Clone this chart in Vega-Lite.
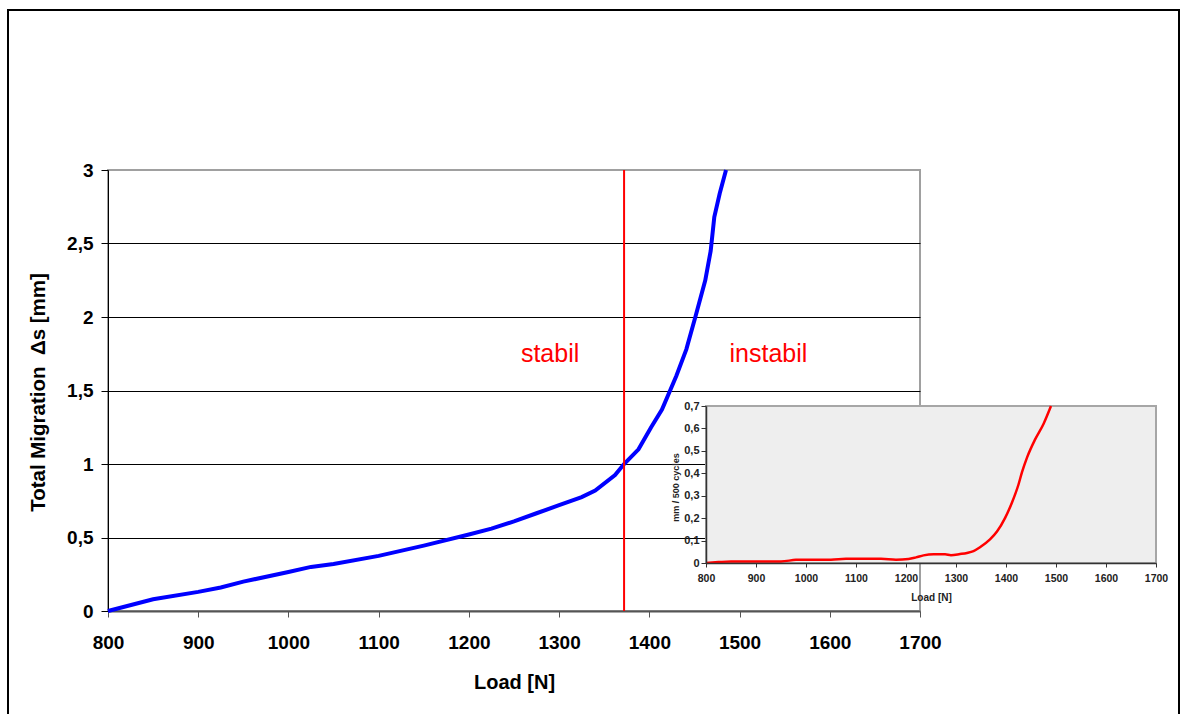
{
  "$schema": "https://vega.github.io/schema/vega-lite/v6.json",
  "width": 812,
  "height": 441,
  "autosize": {"type": "none"},
  "padding": {"left": 108, "top": 170, "right": 262, "bottom": 103},
  "background": "white",
  "config": {
    "view": {"stroke": "#a0a0a0", "strokeWidth": 2},
    "font": "Liberation Sans"
  },
  "datasets": {
    "migration": [
      {"load": 800, "mm": 0},
      {"load": 850, "mm": 0.08},
      {"load": 900, "mm": 0.13},
      {"load": 925, "mm": 0.16},
      {"load": 950, "mm": 0.2},
      {"load": 1000, "mm": 0.265},
      {"load": 1025, "mm": 0.3},
      {"load": 1050, "mm": 0.32},
      {"load": 1100, "mm": 0.375},
      {"load": 1150, "mm": 0.445},
      {"load": 1200, "mm": 0.52},
      {"load": 1225, "mm": 0.56},
      {"load": 1250, "mm": 0.61},
      {"load": 1275, "mm": 0.665},
      {"load": 1300, "mm": 0.72},
      {"load": 1325, "mm": 0.775},
      {"load": 1340, "mm": 0.82},
      {"load": 1362, "mm": 0.925},
      {"load": 1372, "mm": 1.0},
      {"load": 1388, "mm": 1.1},
      {"load": 1402, "mm": 1.25},
      {"load": 1414, "mm": 1.37},
      {"load": 1430, "mm": 1.6},
      {"load": 1441, "mm": 1.78},
      {"load": 1451, "mm": 2.0},
      {"load": 1462, "mm": 2.25},
      {"load": 1468, "mm": 2.45},
      {"load": 1472, "mm": 2.68},
      {"load": 1478, "mm": 2.84},
      {"load": 1485, "mm": 3.0}
    ],
    "threshold": [{"load": 1372}],
    "zones": [
      {"load": 1290, "mm": 1.696, "label": "stabil"},
      {"load": 1532, "mm": 1.696, "label": "instabil"}
    ],
    "insetFrame": [{"x0": 800, "x1": 1700, "y0": 0, "y1": 0.7}],
    "rate": [
      {"load": 800, "rate": 0},
      {"load": 825, "rate": 0.004},
      {"load": 850, "rate": 0.007},
      {"load": 900, "rate": 0.007},
      {"load": 950, "rate": 0.007},
      {"load": 980, "rate": 0.014},
      {"load": 1000, "rate": 0.015},
      {"load": 1050, "rate": 0.015},
      {"load": 1080, "rate": 0.019},
      {"load": 1150, "rate": 0.019},
      {"load": 1180, "rate": 0.015},
      {"load": 1205, "rate": 0.018},
      {"load": 1220, "rate": 0.025},
      {"load": 1235, "rate": 0.034},
      {"load": 1255, "rate": 0.039},
      {"load": 1278, "rate": 0.039},
      {"load": 1290, "rate": 0.035},
      {"load": 1308, "rate": 0.04},
      {"load": 1322, "rate": 0.045},
      {"load": 1335, "rate": 0.053},
      {"load": 1348, "rate": 0.07},
      {"load": 1368, "rate": 0.105},
      {"load": 1382, "rate": 0.14},
      {"load": 1398, "rate": 0.2},
      {"load": 1412, "rate": 0.27},
      {"load": 1425, "rate": 0.35},
      {"load": 1432, "rate": 0.405},
      {"load": 1442, "rate": 0.47},
      {"load": 1458, "rate": 0.55},
      {"load": 1475, "rate": 0.62},
      {"load": 1490, "rate": 0.7}
    ],
    "frame": [{"left": 0, "right": 1, "bottom": 0, "top": 1}]
  },
  "layer": [
    {
      "layer": [
        {
          "data": {"name": "migration"},
          "mark": {"type": "line", "color": "#0000ff", "strokeWidth": 4},
          "encoding": {
            "x": {
              "field": "load", "type": "quantitative",
              "scale": {"domain": [800, 1700], "nice": false, "zero": false},
              "axis": {
                "orient": "bottom",
                "title": "Load [N]",
                "values": [800, 900, 1000, 1100, 1200, 1300, 1400, 1500, 1600, 1700],
                "format": "d",
                "grid": false,
                "domainColor": "#555555", "domainWidth": 2,
                "tickColor": "#555555", "tickSize": 6, "tickWidth": 1,
                "labelFont": "Liberation Sans", "labelFontSize": 19, "labelFontWeight": "bold",
                "labelColor": "black", "labelBaseline": "top", "labelPadding": 16,
                "labelFlush": false, "labelOverlap": false,
                "titleFont": "Liberation Sans", "titleFontSize": 20, "titleFontWeight": "bold",
                "titleColor": "black", "titleX": 406, "titleY": 77, "titleBaseline": "alphabetic", "titleAlign": "center"
              }
            },
            "y": {
              "field": "mm", "type": "quantitative",
              "scale": {"domain": [0, 3], "nice": false},
              "axis": {
                "orient": "left",
                "title": "Total Migration \u00a0Δs [mm]",
                "values": [0, 0.5, 1, 1.5, 2, 2.5, 3],
                "grid": true,
                "gridColor": {"condition": {"test": "datum.value <= 0 || datum.value >= 3", "value": "transparent"}, "value": "black"},
                "gridWidth": 1,
                "domainColor": "black", "domainWidth": 1,
                "tickColor": "black", "tickSize": 7,
                "labelFont": "Liberation Sans", "labelFontSize": 19, "labelFontWeight": "bold",
                "labelColor": "black", "labelPadding": 8,
                "labelExpr": "replace(toString(datum.value), '.', ',')",
                "titleFont": "Liberation Sans", "titleFontSize": 20.5, "titleFontWeight": "bold",
                "titleColor": "black", "titleX": -70, "titleY": 222, "titleAngle": -90,
                "titleBaseline": "middle", "titleAlign": "center"
              }
            }
          }
        },
        {
          "data": {"name": "threshold"},
          "mark": {"type": "rule", "color": "#ff0000", "strokeWidth": 2},
          "encoding": {"x": {"field": "load", "type": "quantitative"}}
        },
        {
          "data": {"name": "zones"},
          "mark": {"type": "text", "color": "#ff0000", "fontSize": 25, "font": "Liberation Sans", "baseline": "alphabetic", "align": "center"},
          "encoding": {
            "x": {"field": "load", "type": "quantitative"},
            "y": {"field": "mm", "type": "quantitative"},
            "text": {"field": "label"}
          }
        }
      ]
    },
    {
      "layer": [
        {
          "data": {"name": "insetFrame"},
          "mark": {"type": "rect", "fill": "#eeeeee", "stroke": "#a6a6a6", "strokeWidth": 2},
          "encoding": {
            "x": {
              "field": "x0", "type": "quantitative",
              "scale": {"domain": [800, 1700], "range": [598, 1048], "nice": false, "zero": false},
              "axis": {
                "orient": "bottom", "offset": -48,
                "title": "Load [N]",
                "values": [800, 900, 1000, 1100, 1200, 1300, 1400, 1500, 1600, 1700],
                "format": "d",
                "grid": false, "zindex": 1,
                "domainColor": "#333333", "domainWidth": 1.5,
                "tickColor": "#333333", "tickSize": 4,
                "labelFont": "Liberation Sans", "labelFontSize": 10.5, "labelFontWeight": "bold",
                "labelColor": "#222222", "labelBaseline": "top", "labelPadding": 6,
                "labelFlush": false, "labelOverlap": false,
                "titleFont": "Liberation Sans", "titleFontSize": 10, "titleFontWeight": "bold",
                "titleColor": "#222222", "titleX": 823, "titleY": 37, "titleBaseline": "alphabetic", "titleAlign": "center"
              }
            },
            "x2": {"field": "x1"},
            "y": {
              "field": "y0", "type": "quantitative",
              "scale": {"domain": [0, 0.7], "range": [393, 236], "nice": false},
              "axis": {
                "orient": "left", "offset": -598,
                "title": "mm / 500 cycles",
                "values": [0, 0.1, 0.2, 0.3, 0.4, 0.5, 0.6, 0.7],
                "grid": false, "zindex": 1,
                "domainColor": "#333333", "domainWidth": 1.5,
                "tickColor": "#333333", "tickSize": 5,
                "labelFont": "Liberation Sans", "labelFontSize": 11, "labelFontWeight": "bold",
                "labelColor": "#222222", "labelPadding": 2,
                "labelExpr": "replace(toString(datum.value), '.', ',')",
                "titleFont": "Liberation Sans", "titleFontSize": 9, "titleFontWeight": "bold",
                "titleColor": "#222222", "titleX": -31, "titleY": 317, "titleAngle": -90,
                "titleBaseline": "middle", "titleAlign": "center"
              }
            },
            "y2": {"field": "y1"}
          }
        },
        {
          "data": {"name": "rate"},
          "mark": {"type": "line", "color": "#ff0000", "strokeWidth": 2.5, "interpolate": "monotone"},
          "encoding": {
            "x": {"field": "load", "type": "quantitative"},
            "y": {"field": "rate", "type": "quantitative"}
          }
        }
      ]
    },
    {
      "data": {"name": "frame"},
      "mark": {"type": "rect", "filled": false, "color": "black", "strokeWidth": 2},
      "encoding": {
        "x": {"field": "left", "type": "quantitative", "scale": {"domain": [0, 1], "range": [-100, 1071]}, "axis": null},
        "x2": {"field": "right"},
        "y": {"field": "bottom", "type": "quantitative", "scale": {"domain": [0, 1], "range": [546, -160]}, "axis": null},
        "y2": {"field": "top"}
      }
    }
  ],
  "resolve": {
    "scale": {"x": "independent", "y": "independent"},
    "axis": {"x": "independent", "y": "independent"}
  }
}
